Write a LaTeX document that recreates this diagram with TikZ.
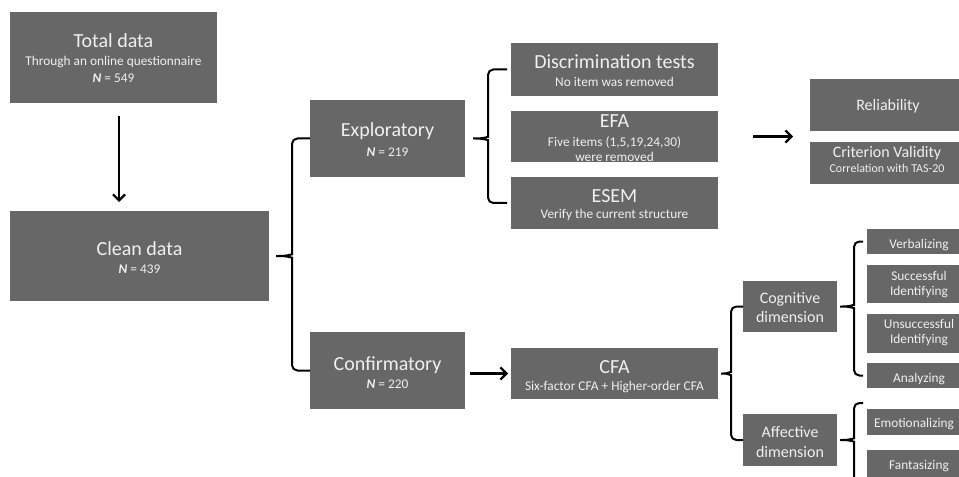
\documentclass[tikz,border=0pt]{standalone}
\usepackage{fontspec}
\setmainfont{Carlito}
\usetikzlibrary{calc,arrows.meta}
\definecolor{boxgray}{HTML}{676767}
\definecolor{txtc}{HTML}{F0F0F0}
\newcommand{\gbox}[5]{\node[gbox,minimum width={(#4-#2)*0.75pt},minimum height={(#5-#3)*0.75pt}] (#1) at ({(#2+#4)/2},{(#3+#5)/2}) {};}
\newcommand{\Nv}{\textbf{\textit{N}}}
\newcommand{\cbrace}[4]{%
  \draw[brc] (#2) -- (#2 -| #1) -- ($(#1)+(0,-7)$)
    .. controls ($(#1)+(0,-2)$) and ($(#1)+(-3,0)$) .. (#4)
    .. controls ($(#1)+(-3,0)$) and ($(#1)+(0,2)$) .. ($(#1)+(0,7)$)
    -- (#3 -| #1) -- (#3);}
\begin{document}
\begin{tikzpicture}[x=0.75pt,y=-0.75pt,
  gbox/.style={fill=boxgray,draw=none,inner sep=0pt,outer sep=0pt,rectangle},
  lbl/.style={text=txtc,inner sep=0pt,anchor=base},
  tA/.style={lbl,font=\fontsize{15}{18}\selectfont},
  tB/.style={lbl,font=\fontsize{12}{14}\selectfont},
  tC/.style={lbl,font=\fontsize{10}{12}\selectfont},
  tD/.style={lbl,font=\fontsize{9}{11}\selectfont},
  arr/.style={line width=1.7pt,-{Straight Barb[length=4.5pt,width=9pt]}},
  brc/.style={line width=1.5pt,rounded corners=4pt}]
\useasboundingbox (0,0) rectangle (959,477);
\fill[white] (0,0) rectangle (959,477);
\clip (0,0) rectangle (959,477);

% boxes
\gbox{tot}{10}{12}{217}{103}
\gbox{clean}{10}{211}{269}{301}
\gbox{expl}{310}{100}{465}{177}
\gbox{conf}{310}{332}{465}{409}
\gbox{disc}{511}{43}{718}{96}
\gbox{efa}{511}{111}{718}{162}
\gbox{esem}{511}{177}{718}{229}
\gbox{cfa}{511}{348}{718}{399}
\gbox{rel}{810}{79}{966}{131}
\gbox{crit}{810}{142}{966}{184}
\gbox{cog}{743}{281}{837}{332}
\gbox{aff}{743}{414}{837}{466}
\gbox{verb}{867}{229}{971}{254}
\gbox{succ}{867}{265}{971}{303}
\gbox{unsu}{867}{314}{971}{353}
\gbox{anal}{867}{363}{971}{388}
\gbox{emo}{867}{409}{971}{435}
\gbox{fant}{867}{450}{971}{487}

% texts
\node[tA] (totA) at (tot |- 0,48) {Total data};
\node[tC] (totB) at (tot |- 0,66) {Through an online questionnaire};
\node[tC] (totC) at (tot |- 0,83) {\Nv{} = 549};
\node[tA] (cleanA) at (clean |- 0,255) {Clean data};
\node[tC] (cleanB) at (clean |- 0,273) {\Nv{} = 439};
\node[tA] (explA) at (expl |- 0,137) {Exploratory};
\node[tC] (explB) at (expl |- 0,157) {\Nv{} = 219};
\node[tA] (confA) at (conf |- 0,370) {Confirmatory};
\node[tC] (confB) at (conf |- 0,388) {\Nv{} = 220};
\node[tA] (discA) at (disc |- 0,69) {Discrimination tests};
\node[tC] (discB) at (disc |- 0,87) {No item was removed};
\node[tA] (efaA) at (efa |- 0,128) {EFA};
\node[tC] (efaB) at (efa |- 0,147) {Five items (1,5,19,24,30)};
\node[tC] (efaC) at (efa |- 0,162) {were removed};
\node[tA] (esemA) at (esem |- 0,203) {ESEM};
\node[tC] (esemB) at (esem |- 0,219) {Verify the current structure};
\node[tA] (cfaA) at (cfa |- 0,373) {CFA};
\node[tC] (cfaB) at (cfa |- 0,390) {Six-factor CFA + Higher-order CFA};
\node[tB] (relA) at (888,111) {Reliability};
\node[tB] (critA) at (887,158) {Criterion Validity};
\node[tD] (critB) at (887,173) {Correlation with TAS-20};
\node[tB] (cogA) at (cog |- 0,303) {Cognitive};
\node[tB] (cogB) at (cog |- 0,322) {dimension};
\node[tB] (affA) at (aff |- 0,437) {Affective};
\node[tB] (affB) at (aff |- 0,457) {dimension};
\node[tC] (verbA) at (919,248) {Verbalizing};
\node[tC] (succA) at (919,280) {Successful};
\node[tC] (succB) at (919,295) {Identifying};
\node[tC] (unsuA) at (919,328) {Unsuccessful};
\node[tC] (unsuB) at (919,343) {Identifying};
\node[tC] (analA) at (919,382) {Analyzing};
\node[tC] (emoA) at (914,427) {Emotionalizing};
\node[tC] (fantA) at (919,469) {Fantasizing};

% arrows
\coordinate (a1) at ($(tot.south)+(5.5,13)$);
\draw[arr] (a1) -- ($(a1 |- clean.north)+(0,-9)$);
\draw[arr] ($(conf.east |- cfa.west)+(5,0)$) -- ($(cfa.west)+(-3,0)$);
\draw[arr] ($(efa.east)+(35,0)$) -- ($(rel.west |- efa.east)+(-17,0)$);

% braces
\coordinate (s1) at ($(clean.east)+(23,0)$);
\coordinate (s2) at ($(expl.east)+(23,0)$);
\coordinate (s3) at ($(cfa.east)+(13,0)$);
\coordinate (s4) at ($(cog.east)+(17,0)$);
\coordinate (s5) at ($(aff.east)+(17,0)$);
\coordinate (t1) at ($(clean.east)+(4,0)$);
\coordinate (t2) at ($(expl.east)+(5,0)$);
\coordinate (d1) at ($(disc.west)+(-4,0)$);
\coordinate (d2) at ($(esem.west)+(-4,0)$);
\coordinate (v1) at ($(verb.west)+(-4,0)$);
\coordinate (v2) at ($(anal.west)+(-4,0)$);
\coordinate (afftop) at ($(emo.north west)+(-4,-6)$);
\coordinate (affbot) at ($(s5)+(9,50)$);
\cbrace{s1}{expl.west}{conf.west}{t1}
\cbrace{s2}{d1}{d2}{t2}
\cbrace{s3}{cog.west}{aff.west}{cfa.east}
\cbrace{s4}{v1}{v2}{cog.east}
\cbrace{s5}{afftop}{affbot}{aff.east}
\end{tikzpicture}
\end{document}
